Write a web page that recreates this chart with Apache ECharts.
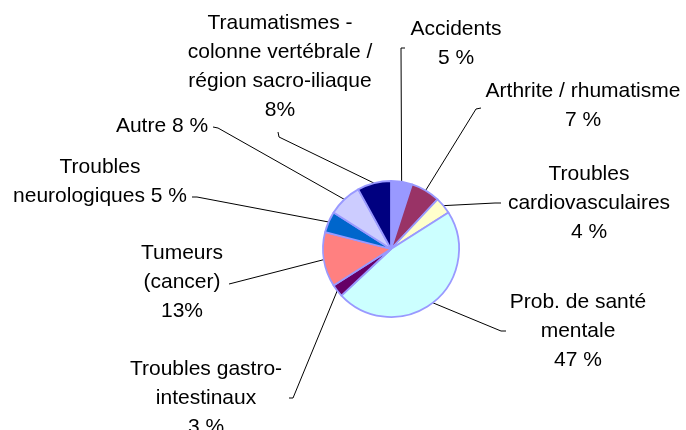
<!DOCTYPE html>
<html>
<head>
<meta charset="utf-8">
<script src="https://cdn.jsdelivr.net/npm/echarts@6/dist/echarts.min.js"></script>
<style>
  html, body { margin: 0; padding: 0; background: #fff; }
  #chart { width: 686px; height: 430px; }
</style>
</head>
<body>
<div id="chart"></div>
<script>
// Causes, dans l'ordre des secteurs (sens horaire depuis midi)
const categories = [
    'Accidents',
    'Arthrite / rhumatisme',
    'Troubles cardiovasculaires',
    'Prob. de santé mentale',
    'Troubles gastro-intestinaux',
    'Tumeurs (cancer)',
    'Troubles neurologiques',
    'Autre',
    'Traumatismes - colonne vertébrale / région sacro-iliaque'
];
const values = [5, 7, 4, 47, 3, 13, 5, 8, 8];
const labelTexts = [
    'Accidents\n5 %',
    'Arthrite / rhumatisme\n7 %',
    'Troubles\ncardiovasculaires\n4 %',
    'Prob. de santé\nmentale\n47 %',
    'Troubles gastro-\nintestinaux\n3 %',
    'Tumeurs\n(cancer)\n13%',
    'Troubles\nneurologiques 5 %',
    'Autre 8 %',
    'Traumatismes -\ncolonne vertébrale /\nrégion sacro-iliaque\n8%'
];
const colors = ['#9999ff', '#993366', '#ffffcc', '#ccffff', '#660066', '#ff8080', '#0066cc', '#ccccff', '#000080'];

// position des étiquettes (centre du bloc) et coude / fin des lignes de rappel
const labelPos = [[456, 44], [583, 106], [589, 203], [578, 331], [206, 398], [182, 282], [100, 182], [162, 126], [280, 67]];
const lineBends = [[[401, 48], [405, 48]], [[476, 109], [481, 108]], [[495, 203], [501, 203]], [[501, 331], [506, 331]],
    [[293, 398], [289, 398]], [[233, 283], [229, 284]], [[197, 197], [192, 197]], [[218, 128], [213, 127]],
    [[279, 137], [278, 132]]];

const chart = echarts.init(document.getElementById('chart'));

const option = {
    backgroundColor: '#ffffff',
    animation: false,
    series: [
        {
            type: 'pie',
            center: [391, 249],
            radius: 68,
            startAngle: 90,
            clockwise: true,
            avoidLabelOverlap: false,
            itemStyle: {
                borderColor: '#9999ff',
                borderWidth: 1.8
            },
            label: {
                show: true,
                position: 'outside',
                formatter: p => labelTexts[p.dataIndex],
                color: '#000',
                fontFamily: 'Liberation Sans, Arial, sans-serif',
                fontSize: 21,
                lineHeight: 29,
                align: 'center'
            },
            labelLine: {
                show: true,
                length: 10,
                length2: 10,
                lineStyle: { color: '#000', width: 1 }
            },
            labelLayout: function (params) {
                const i = params.dataIndex;
                const start = params.labelLinePoints ? params.labelLinePoints[0] : lineBends[i][0];
                return {
                    x: labelPos[i][0],
                    y: labelPos[i][1],
                    align: 'center',
                    verticalAlign: 'middle',
                    labelLinePoints: [start, lineBends[i][0], lineBends[i][1]]
                };
            },
            emphasis: { disabled: true },
            data: categories.map((name, i) => ({
                name: name,
                value: values[i],
                itemStyle: { color: colors[i] }
            }))
        }
    ]
};

chart.setOption(option);

window.addEventListener('resize', function () {
    chart.resize();
});
</script>
</body>
</html>
